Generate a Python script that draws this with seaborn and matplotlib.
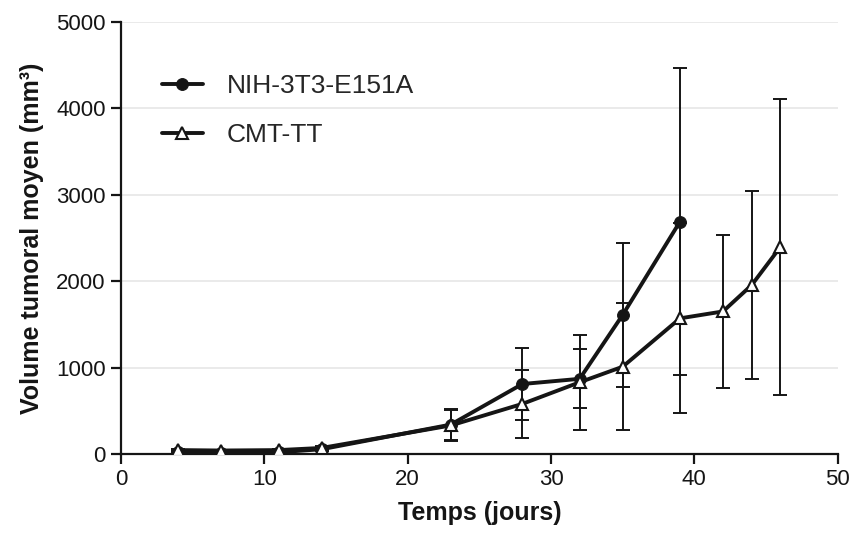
import numpy as np
import pandas as pd
import matplotlib
matplotlib.use('Agg')
import matplotlib.pyplot as plt
import seaborn as sns

# data
days_nih = [4, 7, 11, 14, 23, 28, 32, 35, 39]
vol_nih = [25, 15, 20, 55, 340, 810, 870, 1610, 2690]
sd_nih = [15, 10, 12, 20, 180, 420, 340, 835, 1780]

days_cmt = [4, 7, 11, 14, 23, 28, 32, 35, 39, 42, 44, 46]
vol_cmt = [45, 40, 45, 70, 330, 580, 830, 1010, 1570, 1650, 1955, 2395]
sd_cmt = [15, 10, 12, 20, 180, 390, 550, 735, 1100, 885, 1090, 1715]

labels = ['NIH-3T3-E151A', 'CMT-TT']

df_nih = pd.DataFrame({'jour': days_nih, 'vol': vol_nih, 'sd': sd_nih})
df_cmt = pd.DataFrame({'jour': days_cmt, 'vol': vol_cmt, 'sd': sd_cmt})

sns.set_style('ticks')
plt.rcParams['font.family'] = ['Liberation Sans', 'DejaVu Sans']

fig = plt.figure(figsize=(8.53, 5.37), dpi=100)
ax = fig.add_axes([0.142, 0.1546, 0.840, 0.8044])

ink = '#151515'

# error bars first (behind the markers)
ax.errorbar(df_nih.jour, df_nih.vol, yerr=df_nih.sd, fmt='none', ecolor=ink,
            elinewidth=1.4, capsize=5, capthick=1.4, zorder=2)
ax.errorbar(df_cmt.jour, df_cmt.vol, yerr=df_cmt.sd, fmt='none', ecolor=ink,
            elinewidth=1.4, capsize=5, capthick=1.4, zorder=2)

sns.lineplot(data=df_nih, x='jour', y='vol', ax=ax, color=ink, lw=2.8,
             marker='o', markersize=8.5, markeredgecolor=ink, markerfacecolor=ink,
             label=labels[0], zorder=3)
sns.lineplot(data=df_cmt, x='jour', y='vol', ax=ax, color=ink, lw=2.8,
             marker='^', markersize=8.5, markeredgecolor=ink, markeredgewidth=1.5,
             markerfacecolor='white', label=labels[1], zorder=3)

ax.set_xlim(0, 50)
ax.set_ylim(0, 5000)
ax.set_xticks([0, 10, 20, 30, 40, 50])
ax.set_yticks([0, 1000, 2000, 3000, 4000, 5000])
ax.yaxis.grid(True, color='#e6e6e6', lw=1.2, zorder=0)
ax.set_axisbelow(True)

sns.despine(ax=ax)
for s in ['left', 'bottom']:
    ax.spines[s].set_linewidth(1.6)
    ax.spines[s].set_color(ink)
ax.tick_params(axis='both', direction='out', length=7, width=1.6, color=ink,
               labelsize=16, labelcolor=ink, pad=4)

ax.set_xlabel('Temps (jours)', fontsize=18, fontweight='bold', color=ink, labelpad=8)
ax.set_ylabel('Volume tumoral moyen (mm³)', fontsize=18, fontweight='bold', color=ink, labelpad=9)

ax.legend(loc='upper left', bbox_to_anchor=(0.057, 0.88), frameon=False,
          fontsize=19, handlelength=1.55, handletextpad=0.9, labelspacing=0.95,
          borderpad=0, borderaxespad=0)

fig.savefig('out.png', dpi=100)
